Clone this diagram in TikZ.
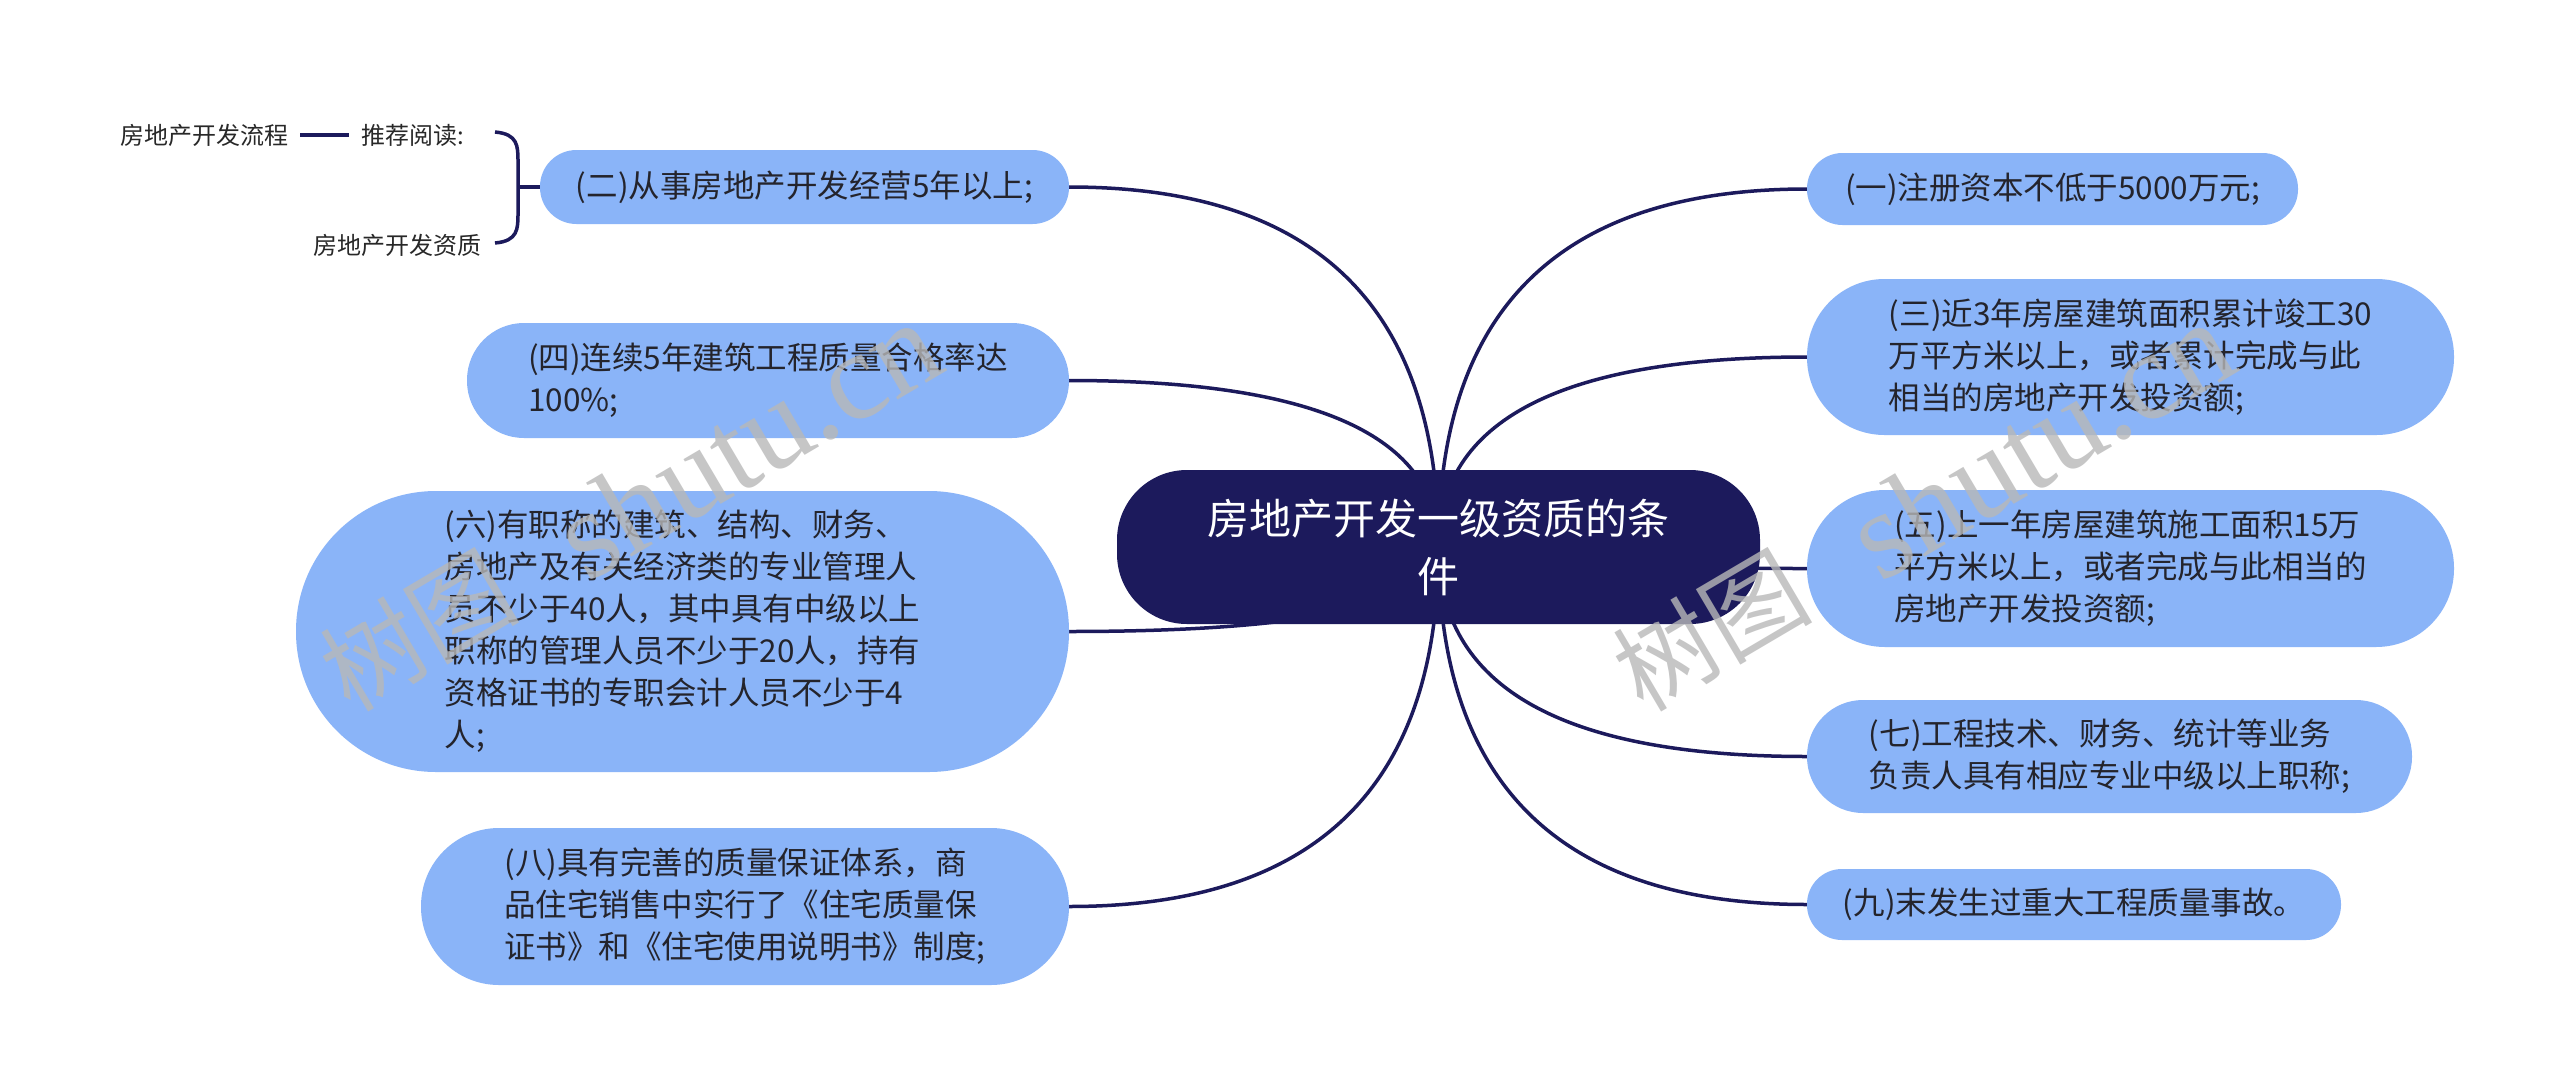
\documentclass[tikz,border=0pt]{standalone}
\usepackage{fontspec}
\setmainfont{Noto Sans CJK SC}
\newfontfamily\wmlatin{Liberation Serif}
\usetikzlibrary{calc,backgrounds}
\definecolor{navy}{RGB}{28,26,92}
\definecolor{leafblue}{RGB}{138,180,248}
\definecolor{leaftxt}{RGB}{36,36,44}
\definecolor{smalltxt}{RGB}{40,40,40}
\definecolor{wmgray}{RGB}{184,184,184}
\newcommand\mmconn[2]{\draw[conn] (#1) .. controls ($(#1)!0.667!(#1 |- #2)$) and ($(#2)!0.667!(#1 |- #2)$) .. (#2);}
\begin{document}
\begin{tikzpicture}[x=1pt,y=-1pt,
 leaf/.style={fill=leafblue, text=leaftxt, font=\fontsize{31.5}{42}\selectfont, align=left, inner sep=0pt},
 root/.style={fill=navy, text=white, font=\fontsize{42}{58}\selectfont, align=center, inner sep=0pt, minimum width=643pt, minimum height=154pt, rounded corners=70pt},
 small/.style={text=smalltxt, font=\fontsize{24}{30}\selectfont, inner xsep=12pt, inner ysep=4pt},
 conn/.style={draw=navy, line width=3.5pt},
 wm/.style={text=wmgray, text opacity=0.8, rotate=30.5, inner sep=0pt}]
\useasboundingbox (0,0) rectangle (2560,1090);

% central topic
\node[root] (c) at (1438.5,547) {房地产开发一级资质的条\\件};

% right branches
\node[leaf, minimum width=491pt, minimum height=72pt, rounded corners=35.5pt] (n1) at (2052.5,189) {(一)注册资本不低于5000万元;};
\node[leaf, minimum width=647pt, minimum height=156pt, rounded corners=77.5pt] (n3) at (2130.5,357) {(三)近3年房屋建筑面积累计竣工30\\万平方米以上，或者累计完成与此\\相当的房地产开发投资额;};
\node[leaf, minimum width=647pt, minimum height=157pt, rounded corners=78pt] (n5) at (2130.5,568.5) {(五)上一年房屋建筑施工面积15万\\平方米以上，或者完成与此相当的\\房地产开发投资额;};
\node[leaf, minimum width=605pt, minimum height=113pt, rounded corners=56pt] (n7) at (2109.5,756.5) {(七)工程技术、财务、统计等业务\\负责人具有相应专业中级以上职称;};
\node[leaf, minimum width=534pt, minimum height=71pt, rounded corners=35pt] (n9) at (2074,904.5) {(九)末发生过重大工程质量事故。};

% left branches
\node[leaf, minimum width=529pt, minimum height=74pt, rounded corners=36.5pt] (n2) at (804.5,187) {(二)从事房地产开发经营5年以上;};
\node[leaf, minimum width=602pt, minimum height=115pt, rounded corners=57pt] (n4) at (768,380.5) {(四)连续5年建筑工程质量合格率达\\100\%;};
\node[leaf, minimum width=773pt, minimum height=281pt, rounded corners=140pt] (n6) at (682.5,631.5) {(六)有职称的建筑、结构、财务、\\房地产及有关经济类的专业管理人\\员不少于40人，其中具有中级以上\\职称的管理人员不少于20人，持有\\资格证书的专职会计人员不少于4\\人;};
\node[leaf, minimum width=648pt, minimum height=157pt, rounded corners=78pt] (n8) at (745,906.5) {(八)具有完善的质量保证体系，商\\品住宅销售中实行了《住宅质量保\\证书》和《住宅使用说明书》制度;};

% recommended reading
\node[small] (flow) at (204,135) {房地产开发流程};
\node[small] (read) at (413,135) {推荐阅读:};
\node[small] (qual) at (397.5,245) {房地产开发资质};
\draw[conn] (flow) -- (read);
\coordinate (bt) at (495,132);
\coordinate (bb) at (495,243);
\coordinate (bm) at (518,187);
\draw[conn] (bt) .. controls (518,134) and (518,146) .. (518,162) -- (518,213) .. controls (518,229) and (518,241) .. (bb);
\draw[conn] (bm) -- (n2.west);

\begin{pgfonlayer}{background}
\fill[white] (0,0) rectangle (2560,1090);
\mmconn{c.center}{n1.west}
\mmconn{c.center}{n3.west}
\mmconn{c.center}{n5.west}
\mmconn{c.center}{n7.west}
\mmconn{c.center}{n9.west}
\mmconn{c.center}{n2.east}
\mmconn{c.center}{n4.east}
\mmconn{c.center}{n6.east}
\mmconn{c.center}{n8.east}
\end{pgfonlayer}

% watermarks
\node[wm, font=\fontsize{100}{100}\selectfont] (wm1a) at (417,630) {树图};
\node[wm, font=\wmlatin\fontsize{125}{125}\selectfont] (wm1b) at (747,440) {shutu.cn};
\node[wm, font=\fontsize{100}{100}\selectfont] (wm2a) at (1710,630) {树图};
\node[wm, font=\wmlatin\fontsize{125}{125}\selectfont] (wm2b) at (2040,440) {shutu.cn};
\end{tikzpicture}
\end{document}
